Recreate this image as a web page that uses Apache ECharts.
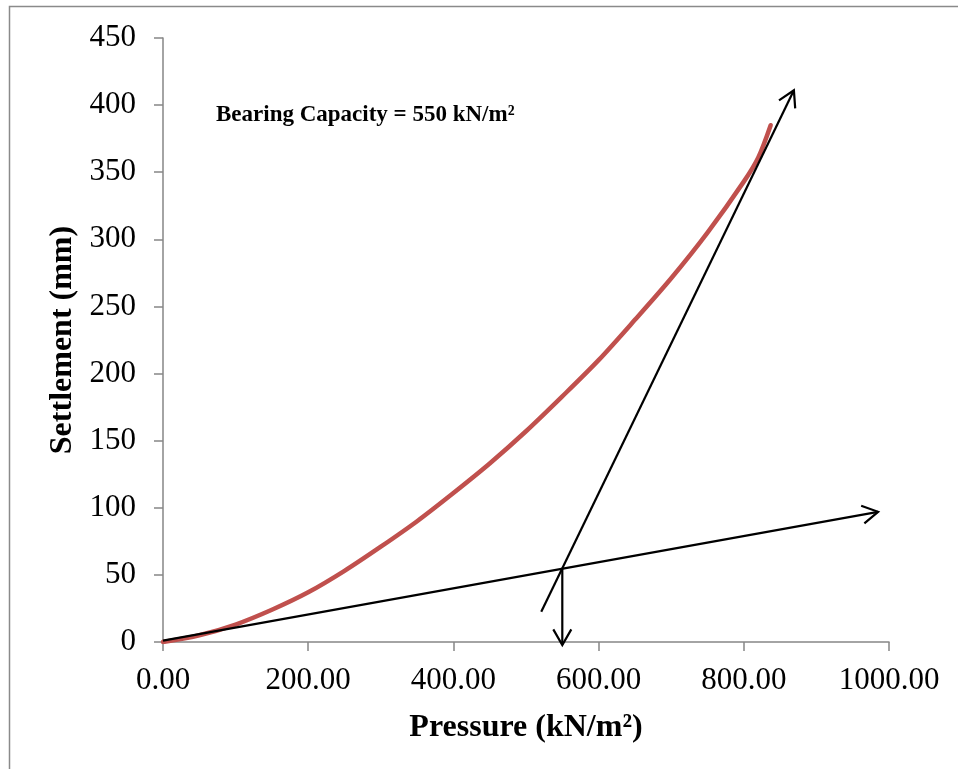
<!DOCTYPE html>
<html>
<head>
<meta charset="utf-8">
<style>
  html, body { margin: 0; padding: 0; background: #ffffff; }
  #chart { width: 958px; height: 769px; }
</style>
<script src="https://cdn.jsdelivr.net/npm/echarts@6/dist/echarts.min.js"></script>
</head>
<body>
<div id="chart"></div>
<script>
// Load–settlement curve from the plate test
const pressure = [0, 50, 100, 150, 200, 250, 300, 350, 400, 450, 500, 550, 600, 650, 700, 750, 800, 820, 837];
const settlement = [0, 5, 13, 24, 37, 53, 71, 90, 111, 133, 157, 183, 210, 240, 271, 305, 343, 361, 385];

// Construction lines: [x0, y0, x1, y1], each ending in an open arrowhead
const initialTangent = [0, 1, 985, 97];
const finalTangent = [521, 22.6, 869, 411];
const capacityDrop = [550, 54.6, 550, -2.2];

const bearingCapacity = 550;
const annotation = 'Bearing Capacity = ' + bearingCapacity + ' kN/m²';

const xTicks = { min: 0, max: 1000, interval: 200 };
const yTicks = { min: 0, max: 450, interval: 50 };

const serif = '"Liberation Serif", "Times New Roman", serif';
const axisGrey = '#868686';

const chart = echarts.init(document.getElementById('chart'), null, { renderer: 'canvas' });

function renderArrow(params, api) {
  const p0 = api.coord([api.value(0), api.value(1)]);
  const p1 = api.coord([api.value(2), api.value(3)]);
  const ang = Math.atan2(p1[1] - p0[1], p1[0] - p0[0]);
  const len = 18, spread = Math.PI / 6;
  const w1 = [p1[0] - len * Math.cos(ang - spread), p1[1] - len * Math.sin(ang - spread)];
  const w2 = [p1[0] - len * Math.cos(ang + spread), p1[1] - len * Math.sin(ang + spread)];
  const style = { stroke: '#000000', lineWidth: 2.2, fill: null, lineCap: 'butt', lineJoin: 'miter' };
  return {
    type: 'group',
    children: [
      { type: 'line', shape: { x1: p0[0], y1: p0[1], x2: p1[0], y2: p1[1] }, style: style },
      { type: 'polyline', shape: { points: [w1, p1, w2] }, style: style }
    ]
  };
}

chart.setOption({
  animation: false,
  backgroundColor: '#ffffff',
  grid: { left: 163, right: 69, top: 38, bottom: 127, containLabel: false },
  xAxis: {
    type: 'value',
    min: xTicks.min, max: xTicks.max, interval: xTicks.interval,
    name: 'Pressure (kN/m²)',
    nameLocation: 'middle',
    nameGap: 70,
    nameTextStyle: { fontFamily: serif, fontWeight: 'bold', fontSize: 32, color: '#000' },
    axisLine: { show: true, onZero: false, lineStyle: { color: axisGrey, width: 1.5 } },
    axisTick: { show: true, inside: false, length: 9, lineStyle: { color: axisGrey, width: 1.5 } },
    axisLabel: { fontFamily: serif, fontSize: 31, color: '#000', margin: 23,
      formatter: v => v.toFixed(2) },
    splitLine: { show: false }
  },
  yAxis: {
    type: 'value',
    min: yTicks.min, max: yTicks.max, interval: yTicks.interval,
    name: 'Settlement (mm)',
    nameLocation: 'middle',
    nameGap: 80,
    nameTextStyle: { fontFamily: serif, fontWeight: 'bold', fontSize: 32, color: '#000' },
    axisLine: { show: true, onZero: false, lineStyle: { color: axisGrey, width: 1.5 } },
    axisTick: { show: true, inside: false, length: 9, lineStyle: { color: axisGrey, width: 1.5 } },
    axisLabel: { fontFamily: serif, fontSize: 31, color: '#000', margin: 27 },
    splitLine: { show: false }
  },
  graphic: [
    {
      type: 'rect', silent: true,
      shape: { x: 9.5, y: 6.5, width: 1000, height: 1000 },
      style: { fill: null, stroke: '#8a8a8a', lineWidth: 1.5 }
    },
    {
      type: 'text', left: 216, top: 104, silent: true,
      style: { text: annotation, fontFamily: serif, fontWeight: 'bold', fontSize: 23, fill: '#000' }
    }
  ],
  series: [
    {
      type: 'line',
      data: pressure.map((p, i) => [p, settlement[i]]),
      smooth: 0.3,
      showSymbol: false,
      lineStyle: { color: '#C0504D', width: 4.5, cap: 'round' },
      z: 2
    },
    {
      type: 'custom',
      renderItem: renderArrow,
      clip: false,
      data: [initialTangent, finalTangent, capacityDrop],
      z: 3
    }
  ]
});
</script>
</body>
</html>
